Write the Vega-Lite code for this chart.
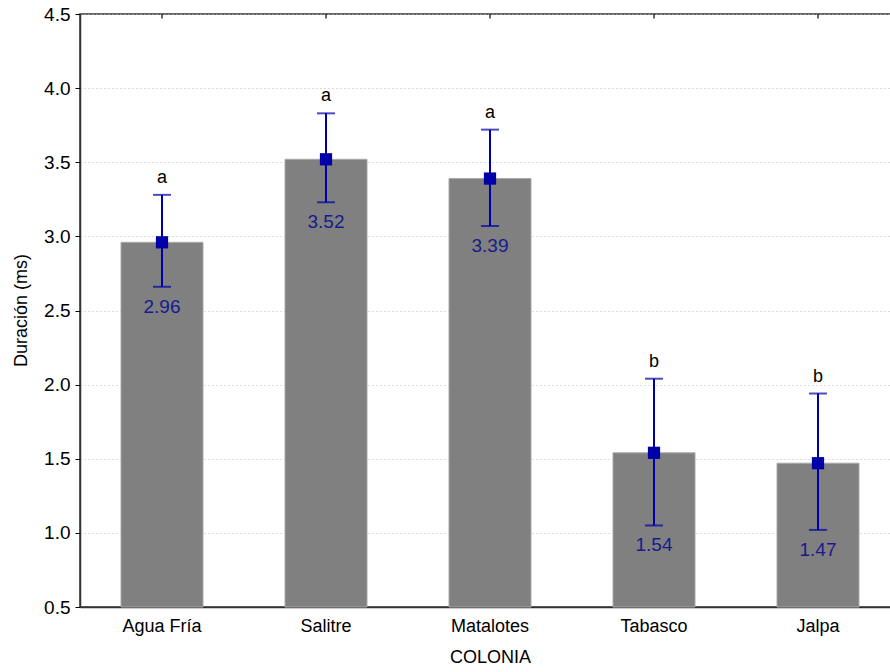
{
  "$schema": "https://vega.github.io/schema/vega-lite/v6.json",
  "autosize": "none",
  "width": 820,
  "height": 593,
  "padding": {"left": 80, "top": 14, "right": 0, "bottom": 65},
  "background": "white",
  "config": {
    "font": "Liberation Sans",
    "view": {"stroke": "#333333", "strokeWidth": 1.5}
  },
  "data": {
    "values": [
      {"colonia": "Agua Fría", "media": 2.96, "lo": 2.66, "hi": 3.28, "grupo": "a", "etiqueta": "2.96"},
      {"colonia": "Salitre", "media": 3.52, "lo": 3.23, "hi": 3.83, "grupo": "a", "etiqueta": "3.52"},
      {"colonia": "Matalotes", "media": 3.39, "lo": 3.07, "hi": 3.72, "grupo": "a", "etiqueta": "3.39"},
      {"colonia": "Tabasco", "media": 1.54, "lo": 1.05, "hi": 2.04, "grupo": "b", "etiqueta": "1.54"},
      {"colonia": "Jalpa", "media": 1.47, "lo": 1.02, "hi": 1.94, "grupo": "b", "etiqueta": "1.47"}
    ]
  },
  "encoding": {
    "x": {
      "field": "colonia",
      "type": "nominal",
      "sort": null,
      "scale": {"paddingInner": 0.5, "paddingOuter": 0.25},
      "axis": {
        "title": "COLONIA",
        "labelAngle": 0,
        "labelFontSize": 18,
        "labelFontWeight": "normal",
        "labelColor": "#000000",
        "labelPadding": 10,
        "ticks": false,
        "domainColor": "#333333",
        "domainWidth": 1.5,
        "titleFontSize": 18,
        "titleFontWeight": "normal",
        "titleColor": "#000000",
        "titlePadding": 13
      }
    }
  },
  "layer": [
    {
      "mark": {"type": "bar", "color": "#808080", "stroke": "#a8a8a8", "strokeWidth": 1},
      "encoding": {
        "y": {
          "field": "media",
          "type": "quantitative",
          "scale": {"domain": [0.5, 4.5], "zero": false, "nice": false},
          "axis": {
            "title": "Duración (ms)",
            "values": [0.5, 1.0, 1.5, 2.0, 2.5, 3.0, 3.5, 4.0, 4.5],
            "format": ".1f",
            "labelFontSize": 19,
            "labelColor": "#000000",
            "labelPadding": 5,
            "tickSize": 5,
            "tickColor": "#000000",
            "domainColor": "#333333",
            "domainWidth": 1.5,
            "grid": true,
            "gridColor": "#b8b8b8",
            "gridDash": [1, 3],
            "titleFontSize": 18,
            "titleFontWeight": "normal",
            "titleColor": "#000000",
            "titleBaseline": "alphabetic",
            "titleX": -54,
            "titleY": 296
          }
        },
        "y2": {"datum": 0.5}
      }
    },
    {
      "mark": {"type": "rule", "color": "#333333", "strokeWidth": 1.5},
      "encoding": {
        "x": {"field": "colonia", "type": "nominal", "sort": null},
        "y": {"datum": 4.5},
        "y2": {"datum": 4.47}
      }
    },
    {
      "mark": {"type": "rule", "color": "#0000a8", "strokeWidth": 2},
      "encoding": {
        "y": {"field": "lo", "type": "quantitative"},
        "y2": {"field": "hi"}
      }
    },
    {
      "mark": {"type": "tick", "color": "#0000a8", "size": 18, "thickness": 2, "orient": "horizontal"},
      "encoding": {"y": {"field": "lo", "type": "quantitative"}}
    },
    {
      "mark": {"type": "tick", "color": "#0000a8", "size": 18, "thickness": 2, "orient": "horizontal"},
      "encoding": {"y": {"field": "hi", "type": "quantitative"}}
    },
    {
      "mark": {"type": "square", "color": "#0000a8", "filled": true, "opacity": 1, "size": 150},
      "encoding": {"y": {"field": "media", "type": "quantitative"}}
    },
    {
      "mark": {"type": "text", "fontSize": 18, "color": "#000000", "dy": -17, "baseline": "middle"},
      "encoding": {
        "y": {"field": "hi", "type": "quantitative"},
        "text": {"field": "grupo"}
      }
    },
    {
      "mark": {"type": "text", "fontSize": 19, "color": "#1a1a8c", "dy": 20, "baseline": "middle"},
      "encoding": {
        "y": {"field": "lo", "type": "quantitative"},
        "text": {"field": "etiqueta"}
      }
    }
  ]
}
